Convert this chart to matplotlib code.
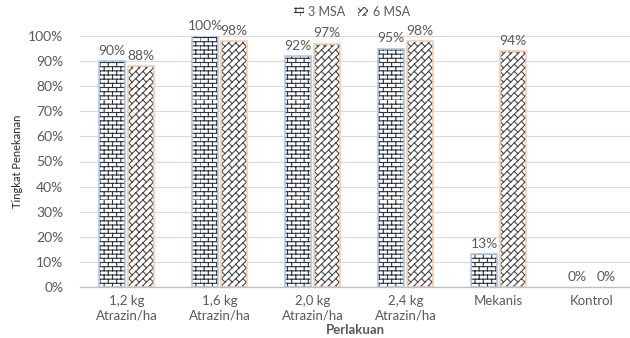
import warnings
import numpy as np
import matplotlib
matplotlib.use('Agg')
import matplotlib.pyplot as plt
from matplotlib import hatch as mhatch
from matplotlib.path import Path
from matplotlib.patches import Patch

warnings.filterwarnings('ignore')

# Data
categories = ['1,2 kg\nAtrazin/ha', '1,6 kg\nAtrazin/ha', '2,0 kg\nAtrazin/ha',
              '2,4 kg\nAtrazin/ha', 'Mekanis', 'Kontrol']
msa3 = [90, 100, 92, 95, 13, 0]
msa6 = [88, 98, 97, 98, 94, 0]
series_names = ['3 MSA', '6 MSA']


# Brick hatch ('b') and diagonal brick hatch ('z')
class BrickHatch(mhatch.HatchPatternBase):
    rows, cols = 24, 12

    def __init__(self, hatch, density):
        self.on = 'b' in hatch
        n = self.rows + self.rows * self.cols
        self.num_vertices = 2 * n if self.on else 0

    def set_vertices_and_codes(self, vertices, codes):
        segs = []
        for i in range(self.rows):
            y0, y1 = i / self.rows, (i + 1) / self.rows
            segs.append(((0, y0), (1, y0)))
            for j in range(self.cols):
                x = (j + 0.5 * (i % 2)) / self.cols
                segs.append(((x, y0), (x, y1)))
        segs = np.array(segs, dtype=float).reshape(-1, 2)
        vertices[:] = segs
        codes[0::2] = Path.MOVETO
        codes[1::2] = Path.LINETO


class DiagBrickHatch(mhatch.HatchPatternBase):
    n = 14

    def __init__(self, hatch, density):
        self.on = 'z' in hatch
        lines = 2 * self.n
        self.num_vertices = 2 * (lines + lines * self.n) if self.on else 0

    def set_vertices_and_codes(self, vertices, codes):
        n = self.n
        segs = []
        for k in range(-n, n):
            c = k / n
            segs.append(((0, -c), (1, 1 - c)))
            for m in range(n):
                u = m / n
                p = (u, u - c)
                segs.append((p, (p[0] + 0.5 / n, p[1] - 0.5 / n)))
        segs = np.array(segs, dtype=float).reshape(-1, 2)
        vertices[:] = segs
        codes[0::2] = Path.MOVETO
        codes[1::2] = Path.LINETO


mhatch._hatch_types.extend([BrickHatch, DiagBrickHatch])

plt.rcParams['font.family'] = ['Lato', 'DejaVu Sans']
plt.rcParams['hatch.linewidth'] = 0.8

text_gray = '#595959'
edge3, hatch3 = '#a9c8e8', '#2b3440'
edge6, hatch6 = '#f8cbad', '#4a4a4a'

fig = plt.figure(figsize=(6.3, 3.38), dpi=100)
ax = fig.add_axes([80 / 630, 51 / 338, 550 / 630, 251 / 338])

x = np.arange(len(categories))
w = 0.28
v3 = np.array(msa3) / 100
v6 = np.array(msa6) / 100
# no outline on empty bars
lw3 = [1.2 if v > 0 else 0 for v in msa3]
lw6 = [1.2 if v > 0 else 0 for v in msa6]

ax.bar(x - 0.155, v3, w, color='white', edgecolor=hatch3, hatch='b', lw=0, zorder=2)
ax.bar(x + 0.155, v6, w, color='white', edgecolor=hatch6, hatch='z', lw=0, zorder=2)
ax.bar(x - 0.155, v3, w, fill=False, edgecolor=edge3, lw=lw3, zorder=3)
ax.bar(x + 0.155, v6, w, fill=False, edgecolor=edge6, lw=lw6, zorder=3)

for xi, a, b in zip(x, msa3, msa6):
    ax.annotate(f'{a}%', (xi - 0.155, a / 100), xytext=(0, 3), textcoords='offset points',
                ha='center', va='bottom', fontsize=10, color=text_gray)
    ax.annotate(f'{b}%', (xi + 0.155, b / 100), xytext=(0, 3), textcoords='offset points',
                ha='center', va='bottom', fontsize=10, color=text_gray)

ax.set_xlim(-0.5, 5.41)
ax.set_ylim(0, 1.0)
ax.set_yticks(np.arange(0, 1.01, 0.1))
ax.set_yticklabels([f'{int(round(t * 100))}%' for t in np.arange(0, 1.01, 0.1)])
ax.set_xticks(x)
ax.set_xticklabels(categories)
ax.tick_params(axis='both', length=0, labelcolor=text_gray)
ax.tick_params(axis='x', pad=6, labelsize=9.5)
ax.tick_params(axis='y', pad=12, labelsize=10)
ax.yaxis.grid(True, color='#d9d9d9', lw=0.8)
ax.set_axisbelow(True)
for s in ['top', 'right', 'left']:
    ax.spines[s].set_visible(False)
ax.spines['bottom'].set_color('#bfbfbf')
ax.spines['bottom'].set_linewidth(1.0)

ax.set_ylabel('Tingkat Penekanan', fontsize=8, color='#262626', labelpad=4)
ax.set_xlabel('Perlakuan', fontsize=9.5, color=text_gray, fontweight='bold', labelpad=2)

handles = [Patch(facecolor='white', edgecolor=hatch3, hatch='b', lw=0),
           Patch(facecolor='white', edgecolor=hatch6, hatch='z', lw=0)]
fig.legend(handles, series_names, loc='center', bbox_to_anchor=(352 / 630, 1 - 12 / 338),
           ncol=2, frameon=False, fontsize=9, handlelength=0.8, handleheight=0.8,
           handletextpad=0.4, columnspacing=1.0, labelcolor=text_gray)

fig.savefig('out.png', dpi=100)
